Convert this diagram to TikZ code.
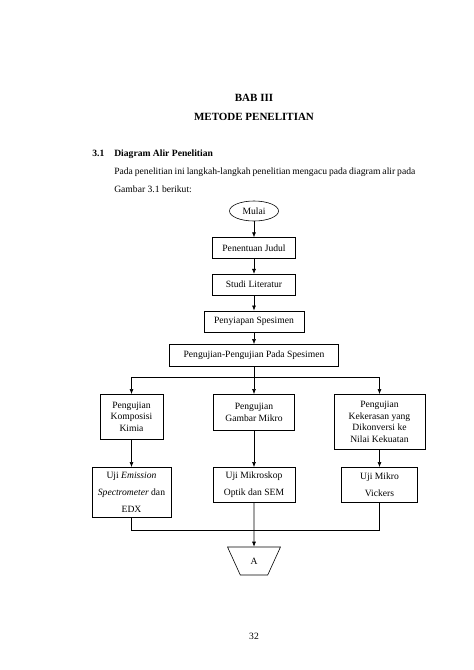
\documentclass[tikz,border=0pt]{standalone}
\usepackage{fontspec}
\setmainfont{Liberation Serif}
\usetikzlibrary{positioning, shapes.geometric, arrows.meta}

\begin{document}
\begin{tikzpicture}[x=1pt, y=-1pt, node distance=15pt, line width=0.6pt,
        font=\fontsize{9.6}{11.5}\selectfont,
        proses/.style={rectangle, draw, inner sep=0pt, minimum height=21pt, align=center},
        uji/.style={rectangle, draw, inner sep=0pt, anchor=north, align=center},
        hasil/.style={uji, font=\fontsize{9.6}{17}\selectfont},
        alir/.style={-{Latex[length=5pt, width=4pt]}}]
        \useasboundingbox (0,0) rectangle (474,670);

        %-----Heading-----

        % Chapter title
        \node[font=\bfseries\fontsize{11}{13}\selectfont] (bab) at (254, 98) {BAB III};
        \node[font=\bfseries\fontsize{11}{13}\selectfont] (judul) at (254, 117) {METODE PENELITIAN};

        % Section title
        \node[anchor=base west, inner sep=0pt, font=\bfseries\fontsize{9.6}{11.5}\selectfont] (nomor) at (92, 156) {3.1};
        \node[anchor=base west, inner sep=0pt, font=\bfseries\fontsize{9.6}{11.5}\selectfont] (subjudul) at (114, 156) {Diagram Alir Penelitian};

        % Paragraph
        \node[anchor=north west, inner sep=0pt, text width=301pt, align=justify, font=\fontsize{9.6}{17.5}\selectfont] (paragraf) at (114, 168)
            {Pada penelitian ini langkah-langkah penelitian mengacu pada diagram alir pada Gambar 3.1 berikut:};

        %-----Flow-----

        % Mulai
        \node[ellipse, draw, inner sep=0pt, minimum width=49pt, minimum height=20pt] (mulai) at (254, 211) {Mulai};

        % Penentuan Judul
        \node[proses, minimum width=83pt, below=16pt of mulai] (judulpen) {Penentuan Judul};

        % Studi Literatur
        \node[proses, minimum width=83pt, below=of judulpen] (studi) {Studi Literatur};

        % Penyiapan Spesimen
        \node[proses, minimum width=100pt, below=of studi] (siap) {Penyiapan Spesimen};

        % Pengujian-Pengujian Pada Spesimen
        \node[proses, minimum width=169pt, minimum height=22pt, below=12pt of siap] (pps) {Pengujian-Pengujian Pada Spesimen};

        % Three tests
        \node[uji, minimum width=63pt, minimum height=45pt] (komposisi) at (131.5, 394) {Pengujian\\Komposisi\\Kimia};
        \node[uji, minimum width=81pt, minimum height=36pt] (gambar) at (254, 394) {Pengujian\\Gambar Mikro};
        \node[uji, minimum width=91pt, minimum height=55pt] (kekerasan) at (379.5, 394) {Pengujian\\Kekerasan yang\\Dikonversi ke\\Nilai Kekuatan};

        % Test methods
        \node[hasil, minimum width=79pt, minimum height=50pt] (emisi) at (131.5, 467) {Uji \textit{Emission}\\\textit{Spectrometer} dan\\EDX};
        \node[hasil, minimum width=82pt, minimum height=35pt] (mikroskop) at (254, 467) {Uji Mikroskop\\Optik dan SEM};
        \node[hasil, minimum width=76pt, minimum height=35pt] (vickers) at (379.5, 467) {Uji Mikro\\Vickers};

        % Connector A
        \node[trapezium, draw, shape border rotate=180, trapezium stretches=true, trapezium angle=63, minimum width=53pt, minimum height=28pt, inner sep=0pt] (A) at (254, 561) {A};

        % Page number
        \node (halaman) at (254, 636) {32};

        %-----Connectors-----

        \draw[alir] (mulai) -- (judulpen);
        \draw[alir] (judulpen) -- (studi);
        \draw[alir] (studi) -- (siap);
        \draw[alir] (siap) -- (pps);

        % Split to the tests
        \coordinate[below=11pt of pps] (cabang);
        \draw (pps) -- (cabang);
        \draw[alir] (cabang) -| (komposisi);
        \draw[alir] (cabang) -- (gambar);
        \draw[alir] (cabang) -| (kekerasan);

        \draw[alir] (komposisi) -- (emisi);
        \draw[alir] (gambar) -- (mikroskop);
        \draw[alir] (kekerasan) -- (vickers);

        % Join to A
        \coordinate[below=13pt of emisi] (gabung);
        \draw (emisi) -- (gabung) -| (vickers);
        \draw[alir] (mikroskop) -- (A);

    \end{tikzpicture}
\end{document}
